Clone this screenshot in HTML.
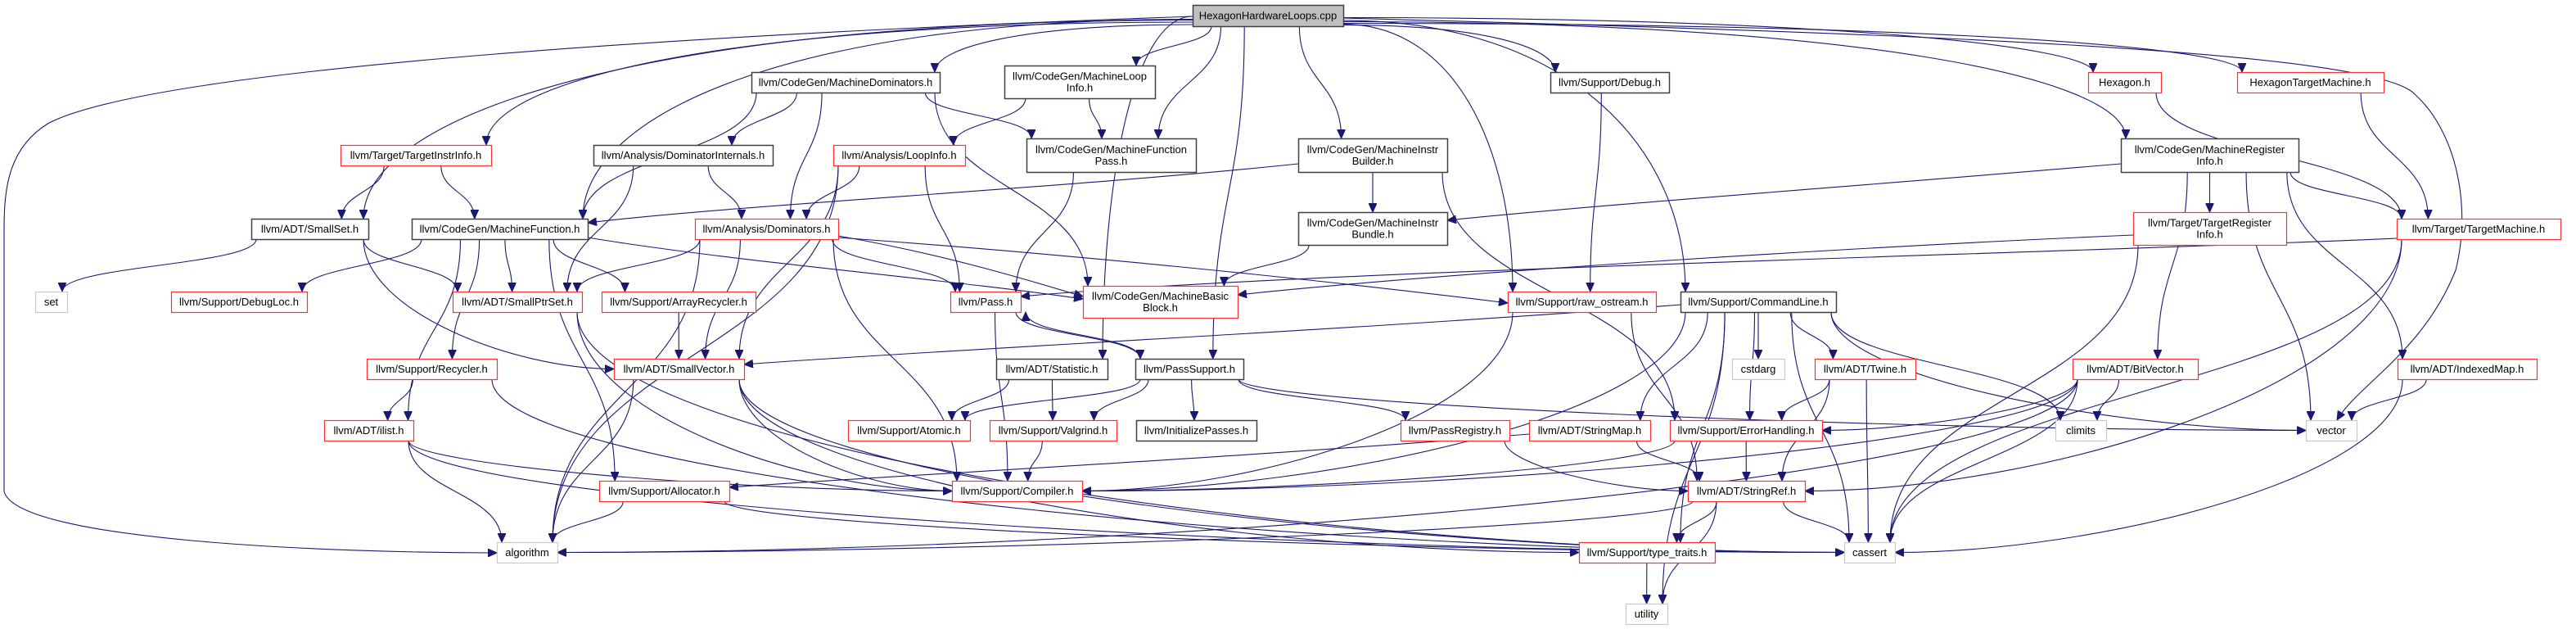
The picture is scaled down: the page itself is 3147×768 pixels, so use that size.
<!DOCTYPE html>
<html><head><meta charset="utf-8"><style>
html,body{margin:0;padding:0;background:#fff;}
svg{display:block;}
text{font-family:"Liberation Sans",sans-serif;font-size:13px;fill:#000;text-anchor:middle;}
</style></head><body>
<svg id="g" width="3147" height="768" viewBox="0 0 3147 768" xmlns="http://www.w3.org/2000/svg">
<defs><marker id="a" markerUnits="userSpaceOnUse" markerWidth="12" markerHeight="10" refX="11" refY="5" orient="auto"><path d="M0,0 L11,5 L0,10 z" fill="#191970" stroke="#191970"/></marker></defs>
<g id="edges" fill="none" stroke="#191970" stroke-width="1.1"></g>
<g id="nodes"></g>
</svg>
<script>
var N={
cpp:[1457,6,1641,32,'k',['HexagonHardwareLoops.cpp']],
TII:[416,177,600,202,'r',['llvm/Target/TargetInstrInfo.h']],
DomInt:[725,177,944,202,'b',['llvm/Analysis/DominatorInternals.h']],
SmallSet:[307,267,450,292,'b',['llvm/ADT/SmallSet.h']],
MF:[503,267,718,292,'b',['llvm/CodeGen/MachineFunction.h']],
set:[43,356,82,381,'g',['set']],
DebugLoc:[209,356,375,381,'r',['llvm/Support/DebugLoc.h']],
SPS:[553,356,711,381,'r',['llvm/ADT/SmallPtrSet.h']],
ArrRec:[735,356,923,381,'r',['llvm/Support/ArrayRecycler.h']],
MDom:[918,88,1148,113,'b',['llvm/CodeGen/MachineDominators.h']],
MLI:[1227,80,1411,120,'b',['llvm/CodeGen/MachineLoop','Info.h']],
LI:[1018,177,1179,202,'r',['llvm/Analysis/LoopInfo.h']],
MFP:[1254,169,1461,210,'b',['llvm/CodeGen/MachineFunction','Pass.h']],
MIB:[1586,169,1768,210,'b',['llvm/CodeGen/MachineInstr','Builder.h']],
MIBun:[1586,259,1768,299,'b',['llvm/CodeGen/MachineInstr','Bundle.h']],
Dom:[849,267,1024,292,'r',['llvm/Analysis/Dominators.h']],
Pass:[1161,356,1247,381,'r',['llvm/Pass.h']],
MBB:[1323,349,1512,388,'r',['llvm/CodeGen/MachineBasic','Block.h']],
Debug:[1894,88,2039,113,'b',['llvm/Support/Debug.h']],
raw:[1842,356,2023,381,'r',['llvm/Support/raw_ostream.h']],
CL:[2053,356,2243,381,'b',['llvm/Support/CommandLine.h']],
Hex:[2551,88,2640,113,'r',['Hexagon.h']],
HTM:[2733,88,2912,113,'r',['HexagonTargetMachine.h']],
MRI:[2591,169,2808,210,'b',['llvm/CodeGen/MachineRegister','Info.h']],
TRI:[2606,259,2793,299,'r',['llvm/Target/TargetRegister','Info.h']],
TM:[2928,267,3128,292,'r',['llvm/Target/TargetMachine.h']],
Rec:[448,438,607,463,'r',['llvm/Support/Recycler.h']],
SV:[750,438,909,463,'r',['llvm/ADT/SmallVector.h']],
ilist:[396,513,505,538,'r',['llvm/ADT/ilist.h']],
Alloc:[732,587,891,612,'r',['llvm/Support/Allocator.h']],
alg:[607,662,681,687,'g',['algorithm']],
Stat:[1217,438,1353,463,'b',['llvm/ADT/Statistic.h']],
PS:[1387,438,1519,463,'b',['llvm/PassSupport.h']],
Atomic:[1036,513,1185,538,'r',['llvm/Support/Atomic.h']],
Valg:[1209,513,1364,538,'r',['llvm/Support/Valgrind.h']],
Init:[1388,513,1535,538,'b',['llvm/InitializePasses.h']],
Comp:[1163,587,1322,612,'r',['llvm/Support/Compiler.h']],
cstdarg:[2116,438,2180,463,'g',['cstdarg']],
Twine:[2217,438,2340,463,'r',['llvm/ADT/Twine.h']],
PR:[1711,513,1844,538,'r',['llvm/PassRegistry.h']],
SM:[1868,513,2016,538,'r',['llvm/ADT/StringMap.h']],
EH:[2040,513,2226,538,'r',['llvm/Support/ErrorHandling.h']],
SR:[2062,587,2205,612,'r',['llvm/ADT/StringRef.h']],
TT:[1929,662,2095,687,'r',['llvm/Support/type_traits.h']],
cassert:[2253,662,2315,687,'g',['cassert']],
utility:[1986,737,2037,762,'g',['utility']],
BV:[2532,438,2685,463,'r',['llvm/ADT/BitVector.h']],
IM:[2929,438,3099,463,'r',['llvm/ADT/IndexedMap.h']],
climits:[2511,513,2573,538,'g',['climits']],
vector:[2817,513,2879,538,'g',['vector']]
};
var E='cpp SmallSet,cpp TII,cpp MF,cpp MDom,cpp MLI,cpp MFP,cpp PS,cpp Stat,cpp MIB,cpp raw,cpp Debug,cpp CL,cpp Hex,cpp HTM,cpp MRI,'+
'MDom DomInt,MDom Dom,MDom MFP,MDom MBB,MDom MF,MLI LI,MLI MFP,DomInt Dom,DomInt SPS,LI Dom,LI Pass,LI SV,LI alg,MFP Pass,'+
'MIB MIBun,MIB EH,MIBun MBB,Debug raw,MRI TM,MRI TRI,MRI BV,MRI IM,MRI vector,Hex TM,HTM TM,TM SR,TM cassert,TRI cassert,'+
'TII SmallSet,TII MF,SmallSet set,SmallSet SPS,SmallSet SV,MF DebugLoc,MF SPS,MF ArrRec,MF Rec,MF ilist,MF Alloc,'+
'Dom SPS,Dom SV,Dom Pass,Dom alg,Dom Comp,ArrRec SV,SPS Comp,SPS cassert,Rec ilist,Rec cassert,SV alg,SV Comp,SV cassert,SV TT,'+
'ilist alg,ilist Comp,ilist cassert,Alloc alg,Alloc cassert,Pass PS,Pass Comp,PS Pass,PS Atomic,PS Valg,PS Init,PS PR,PS vector,'+
'Stat Atomic,Stat Valg,Valg Comp,raw Comp,raw SR,CL cstdarg,CL Twine,CL SM,CL EH,CL utility,CL TT,CL climits,CL vector,CL cassert,CL Comp,'+
'Twine EH,Twine SR,Twine cassert,PR SR,SM SR,EH SR,EH Comp,SR alg,SR TT,SR utility,SR cassert,BV climits,BV EH,BV Comp,BV cassert,BV alg,IM vector,IM cassert,TT utility';
var custom=[
'M1457,20 C900,40 200,80 60,150 C10,180 5,230 5,280 L5,600 C20,660 400,675 607,675',
'M1641,22 C2300,40 2900,60 2950,115 C3000,160 3020,250 3000,330 C2960,430 2880,470 2855,513',
'M1586,200 C1300,230 900,250 718,272',
'M2591,200 C2300,225 1950,250 1768,269',
'M2928,291 C2500,310 1600,330 1247,362',
'M2606,287 C2300,300 1800,330 1512,360',
'M1024,288 C1150,310 1250,340 1323,362',
'M1024,290 C1300,310 1600,340 1842,370',
'M2053,372 C1700,400 1100,430 909,445',
'M1868,530 C1500,560 1100,580 891,595',
'M718,290 C900,320 1150,340 1323,365'
];
var side={Comp:1,cassert:1,alg:1,TT:1,Alloc:1,SR:1,EH:1,vector:1,utility:1,SV:1};
var ns='http://www.w3.org/2000/svg',eg=document.getElementById('edges'),ng=document.getElementById('nodes');
function cl(v,a,b){return Math.max(a,Math.min(b,v));}
function add(d){var p=document.createElementNS(ns,'path');p.setAttribute('d',d);p.setAttribute('marker-end','url(#a)');eg.appendChild(p);}
custom.forEach(add);
var skip={'MIB MF':1,'MRI MIBun':1,'TM Pass':1,'TRI MBB':1,'Dom MBB':1,'MF MBB':1};
E.split(',').forEach(function(s){
 if(skip[s])return;var q=s.split(' '),A=N[q[0]],B=N[q[1]];
 var acx=(A[0]+A[2])/2,bcx=(B[0]+B[2])/2,d;
 if(B[1]>=A[3]+10){
  var dy=B[1]-A[3],dx=Math.abs(bcx-acx);
  var tx2=cl(bcx+(acx-bcx)*0.3,B[0]+6,B[2]-6),ty2=B[1];
  if(q[0]=='cpp'&&dx>250){
   var sx0=bcx>acx?A[2]:A[0],sy0=A[1]+14+(dx%11);
   d='M'+sx0+','+sy0+' C'+(tx2+(sx0-tx2)*0.35)+','+sy0+' '+tx2+','+(ty2-dy*0.55)+' '+tx2+','+ty2;
  }else{
   var sx=cl(acx+(bcx-acx)*0.3,A[0]+6,A[2]-6),sy=A[3];
   if(side[q[1]]&&dx>2.5*dy&&dx>350){
    var ty=(B[1]+B[3])/2,tx=bcx>acx?B[0]:B[2];
    d='M'+sx+','+sy+' C'+sx+','+(sy+dy*0.6)+' '+(tx+(sx-tx)*0.4)+','+ty+' '+tx+','+ty;
   }else{
    d='M'+sx+','+sy+' C'+sx+','+(sy+dy*0.5)+' '+tx2+','+(ty2-dy*0.5)+' '+tx2+','+ty2;
   }
  }
 }else if(B[3]<=A[1]){
  var sx3=cl(acx+(bcx-acx)*0.3,A[0]+6,A[2]-6),tx3=cl(bcx+(acx-bcx)*0.3,B[0]+6,B[2]-6)+12;
  d='M'+sx3+','+A[1]+' C'+sx3+','+(A[1]-30)+' '+tx3+','+(B[3]+30)+' '+tx3+','+B[3];
 }else{
  var y=(B[1]+B[3])/2,sxx=bcx>acx?A[2]:A[0],txx=bcx>acx?B[0]:B[2];
  d='M'+sxx+','+((A[1]+A[3])/2)+' C'+(sxx+txx)/2+','+y+' '+(sxx+txx)/2+','+y+' '+txx+','+y;
 }
 add(d);
});
for(var k in N){var n=N[k],r=document.createElementNS(ns,'rect');
 r.setAttribute('x',n[0]+0.5);r.setAttribute('y',n[1]+0.5);r.setAttribute('width',n[2]-n[0]);r.setAttribute('height',n[3]-n[1]);
 var c={k:'#404040',b:'#404040',r:'#ff3030',g:'#c8c8c8'}[n[4]];
 r.setAttribute('fill',n[4]=='k'?'#bfbfbf':'#fff');r.setAttribute('stroke',c);r.setAttribute('stroke-width',n[4]=='b'||n[4]=='k'?1.5:1.2);ng.appendChild(r);
 var cy=(n[1]+n[3])/2,L=n[5];
 L.forEach(function(t,i){var tx=document.createElementNS(ns,'text');tx.setAttribute('x',(n[0]+n[2])/2);
  tx.setAttribute('y',cy+4.5+(L.length==2?(i==0?-7:7):0));tx.textContent=t;ng.appendChild(tx);});
}
</script>
</body></html>
